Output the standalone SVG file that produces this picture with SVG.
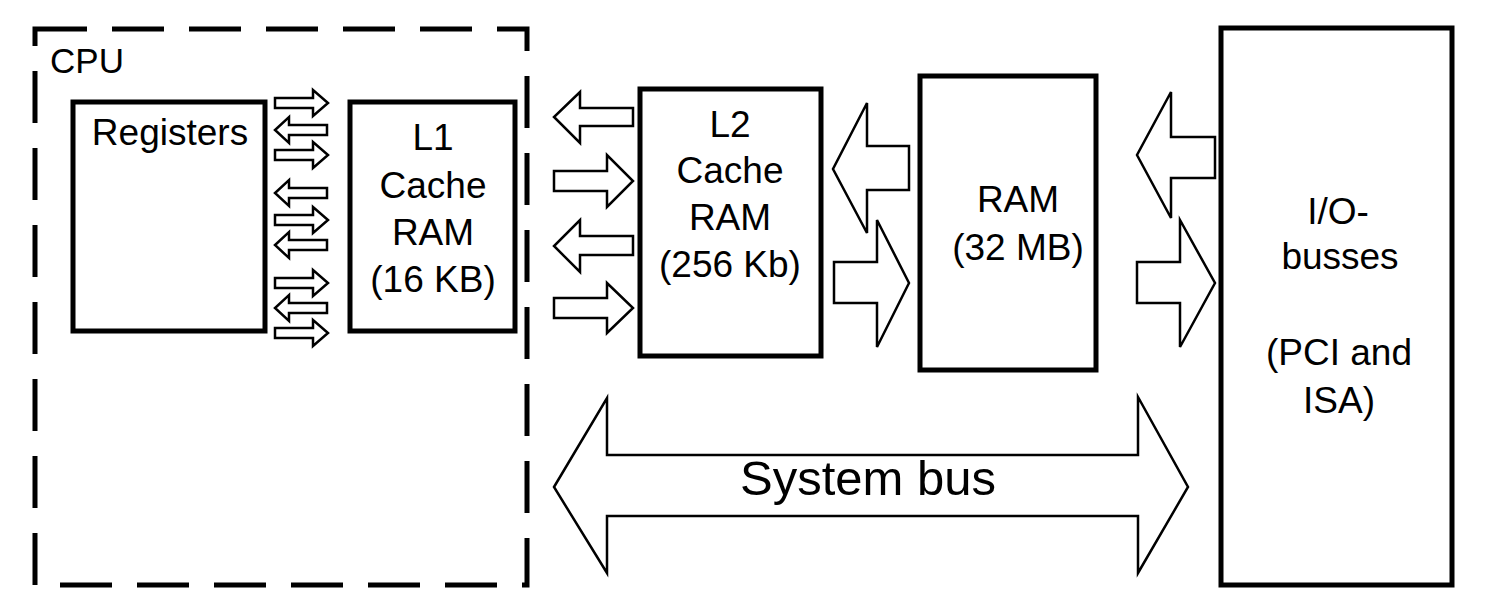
<svg xmlns="http://www.w3.org/2000/svg" width="1498" height="614" viewBox="0 0 1498 614">
<style>
.box{fill:#fff;stroke:#000;stroke-width:5}
.cpu{fill:none;stroke:#000;stroke-width:5;stroke-dasharray:52 25}
.arr{fill:#fff;stroke:#000;stroke-width:2.5;stroke-linejoin:miter}
.t{font-family:"Liberation Sans",Arial,sans-serif;font-size:37px;fill:#000;text-anchor:middle}
</style>
<rect width="1498" height="614" fill="#fff"/>
<g id="cpu">
<rect class="cpu" x="35" y="29" width="492" height="556"/>
<text class="t" x="87" y="73" style="font-size:35px">CPU</text>
</g>
<g id="registers">
<rect class="box" x="73" y="102" width="192" height="229"/>
<text class="t" x="170" y="145">Registers</text>
</g>
<g id="l1">
<rect class="box" x="350" y="102" width="165" height="229"/>
<text class="t" x="433" y="150">L1</text>
<text class="t" x="433" y="198">Cache</text>
<text class="t" x="433" y="245">RAM</text>
<text class="t" x="433" y="292">(16 KB)</text>
</g>
<g id="l2">
<rect class="box" x="640" y="89" width="181" height="267"/>
<text class="t" x="730" y="137">L2</text>
<text class="t" x="730" y="183">Cache</text>
<text class="t" x="730" y="230">RAM</text>
<text class="t" x="730" y="277">(256 Kb)</text>
</g>
<g id="ram">
<rect class="box" x="920" y="76" width="176" height="294"/>
<text class="t" x="1018" y="212">RAM</text>
<text class="t" x="1018" y="260">(32 MB)</text>
</g>
<g id="io">
<rect class="box" x="1221" y="28" width="231" height="557"/>
<text class="t" x="1338" y="224">I/O-</text>
<text class="t" x="1340" y="269">busses</text>
<text class="t" x="1339" y="365">(PCI and</text>
<text class="t" x="1339" y="413">ISA)</text>
</g>
<g id="connectors">
<polygon class="arr" points="275,98 313,98 313,90 328,103 313,116 313,108 275,108"/>
<polygon class="arr" points="327,125 289,125 289,117 275,130 289,143 289,135 327,135"/>
<polygon class="arr" points="275,150 313,150 313,142 328,155 313,168 313,160 275,160"/>
<polygon class="arr" points="327,188 289,188 289,180 275,193 289,206 289,198 327,198"/>
<polygon class="arr" points="275,215 313,215 313,207 328,220 313,233 313,225 275,225"/>
<polygon class="arr" points="327,240 289,240 289,232 275,245 289,258 289,250 327,250"/>
<polygon class="arr" points="275,278 313,278 313,270 328,283 313,296 313,288 275,288"/>
<polygon class="arr" points="327,303 289,303 289,295 275,308 289,321 289,313 327,313"/>
<polygon class="arr" points="275,328 313,328 313,320 328,333 313,346 313,338 275,338"/>
<polygon class="arr" points="633,108 580,108 580,92 554,117 580,143 580,126 633,126"/>
<polygon class="arr" points="554,171 607,171 607,155 633,181 607,207 607,191 554,191"/>
<polygon class="arr" points="633,236 580,236 580,220 554,246 580,272 580,255 633,255"/>
<polygon class="arr" points="554,298 607,298 607,283 633,308 607,333 607,318 554,318"/>
<polygon class="arr" points="909,146 867,146 867,103 833,169 867,233 867,190 909,190"/>
<polygon class="arr" points="834,262 877,262 877,220 909,283 877,347 877,303 834,303"/>
<polygon class="arr" points="1215,137 1171,137 1171,92 1137,155 1171,218 1171,178 1215,178"/>
<polygon class="arr" points="1137,262 1180,262 1180,220 1215,283 1180,347 1180,303 1137,303"/>
<polygon class="arr" points="554,487 607,398 607,455 1138,455 1138,397 1188,487 1138,573 1138,516 607,516 607,573"/>
<text class="t" x="868" y="495" style="font-size:49px">System bus</text>
</g>
</svg>
